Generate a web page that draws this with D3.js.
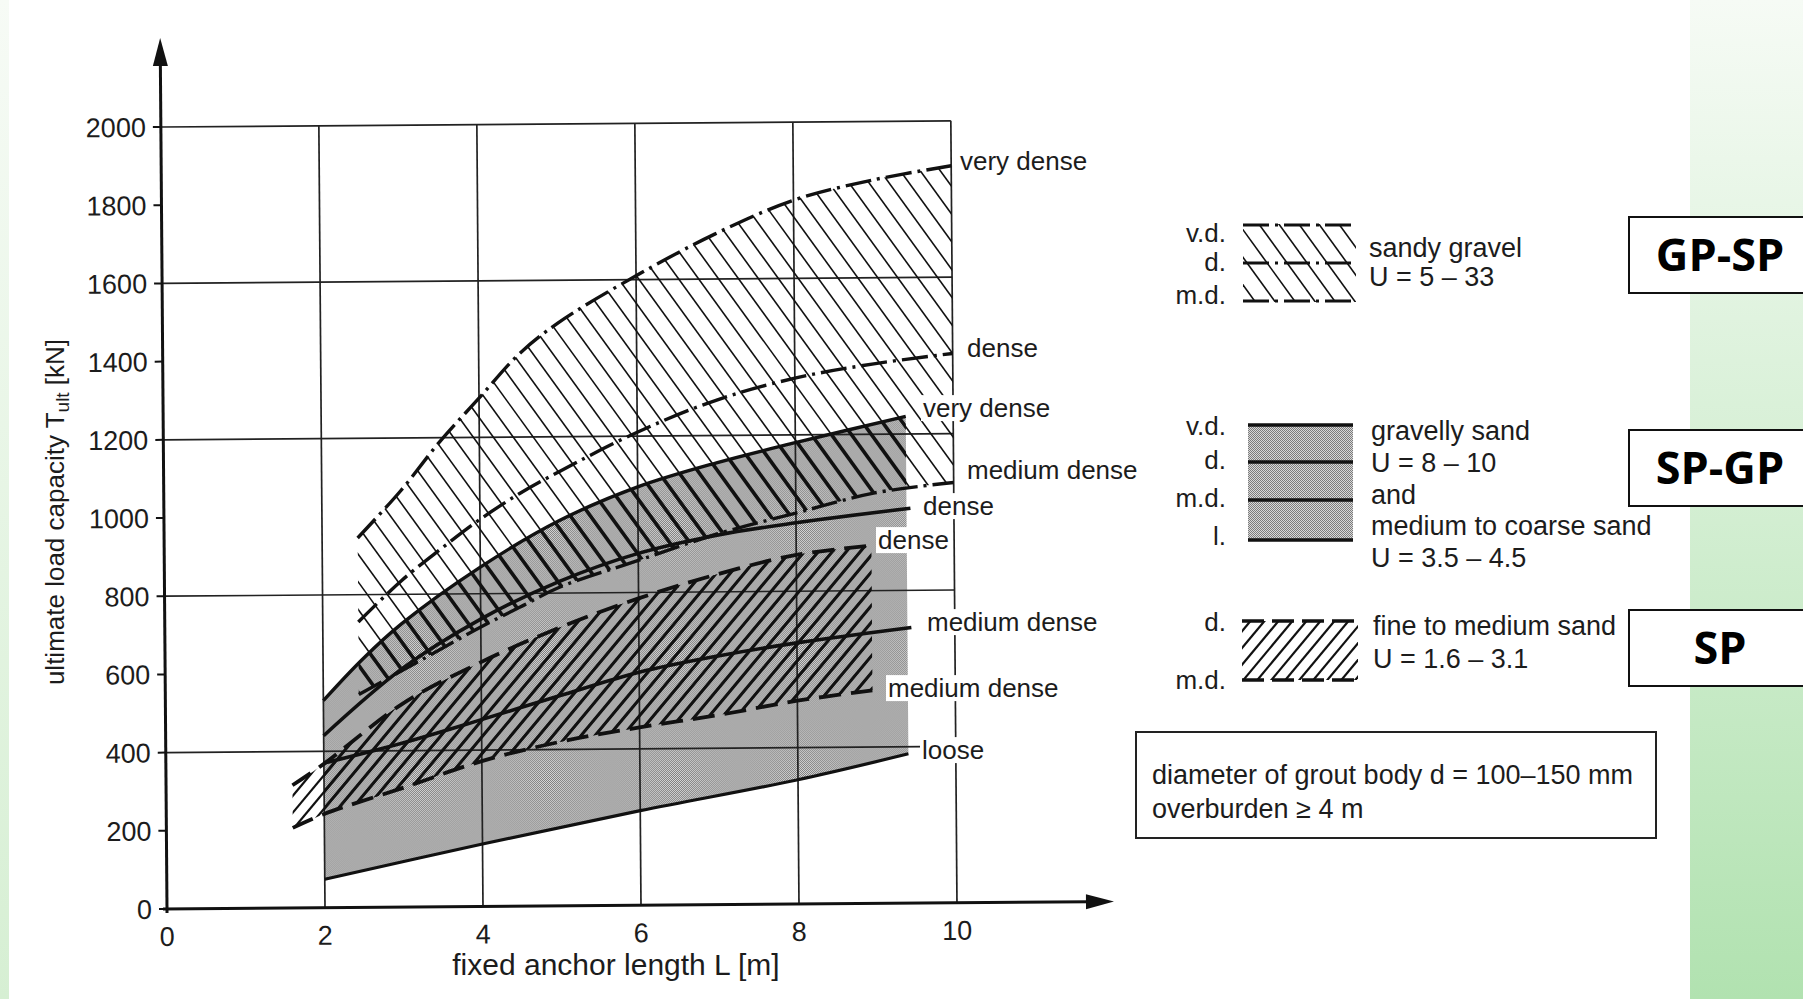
<!DOCTYPE html>
<html lang="en">
<head>
<meta charset="UTF-8">
<title>Ultimate load capacity of anchors</title>
<script src="https://d3js.org/d3.v7.min.js"></script>
<style>
  body { margin: 0; background: #fff; }
  text { font-family: "Liberation Sans", Arial, sans-serif; fill: #1c1c1c; }
</style>
</head>
<body>
<script>
// values: [fixed anchor length L (m), ultimate load T_ult (kN)]
var sandyGravelVD = [[2.45, 945], [3, 1065], [3.5, 1190], [4, 1300], [4.5, 1410], [5, 1490], [6, 1610], [7, 1715], [8, 1800], [9, 1850], [10, 1885]];
var sandyGravelD  = [[2.45, 730], [3, 835], [3.5, 915], [4, 990], [4.5, 1055], [5, 1110], [6, 1210], [7, 1290], [8, 1345], [9, 1380], [10, 1405]];
var sandyGravelMD = [[2.45, 545], [3, 605], [3.5, 660], [4, 715], [4.5, 765], [5, 815], [6, 882], [7, 948], [8, 1000], [9, 1050], [10, 1075]];

var gravellySandVD = [[2, 530], [2.5, 635], [3, 725], [4, 868], [5, 985], [6, 1070], [7, 1130], [8, 1180], [9.4, 1245]];
var gravellySandD  = [[2, 440], [3, 610], [4, 735], [5, 830], [6, 900], [7, 945], [8, 975], [9.45, 1010]];
var gravellySandMD = [[2, 370], [3, 420], [4, 478], [5, 538], [6, 596], [7, 636], [8, 668], [9.45, 705]];
var gravellySandL  = [[2, 73], [4, 160], [6, 242], [8, 318], [9.4, 382]];

var fineSandD  = [[1.6, 314], [2, 368], [3, 520], [4, 625], [5, 712], [6, 785], [7, 845], [8, 893], [8.95, 915]];
var fineSandMD = [[1.6, 205], [2, 240], [3, 305], [4, 372], [5, 420], [6, 455], [7, 485], [8, 520], [8.95, 545]];

var xTicks = [0, 2, 4, 6, 8, 10];
var yTicks = [0, 200, 400, 600, 800, 1000, 1200, 1400, 1600, 1800, 2000];
var xGrid = [2, 4, 6, 8, 10];
var yGrid = [400, 800, 1200, 1600, 2000];

var curveLabels = ["very dense", "dense", "very dense", "medium dense", "dense", "dense", "medium dense", "medium dense", "loose"];
var legendSG = ["sandy gravel", "U = 5 \u2013 33"];
var legendGS = ["gravelly sand", "U = 8 \u2013 10", "and", "medium to coarse sand", "U = 3.5 \u2013 4.5"];
var legendFS = ["fine to medium sand", "U = 1.6 \u2013 3.1"];
var noteLines = ["diameter of grout body d = 100\u2013150 mm", "overburden \u2265 4 m"];
var classes = ["GP-SP", "SP-GP", "SP"];

var W = 1803, H = 999;
var svg = d3.select("body").append("svg").attr("width", W).attr("height", H);
var defs = svg.append("defs");

var pat = defs.append("pattern").attr("id", "stipple").attr("width", 2).attr("height", 2)
    .attr("patternUnits", "userSpaceOnUse");
pat.append("rect").attr("width", 2).attr("height", 2).attr("fill", "#d8d8d8");
pat.append("rect").attr("width", 1).attr("height", 1).attr("fill", "#7c7c7c");
pat.append("rect").attr("x", 1).attr("y", 1).attr("width", 1).attr("height", 1).attr("fill", "#7c7c7c");

var grad = defs.append("linearGradient").attr("id", "green").attr("x1", 0).attr("y1", 0).attr("x2", 0).attr("y2", 1);
grad.append("stop").attr("offset", "0%").attr("stop-color", "#f6fbf5");
grad.append("stop").attr("offset", "100%").attr("stop-color", "#b1e2b0");
var gradL = defs.append("linearGradient").attr("id", "greenL").attr("x1", 0).attr("y1", 0).attr("x2", 0).attr("y2", 1);
gradL.append("stop").attr("offset", "0%").attr("stop-color", "#f7fbf6");
gradL.append("stop").attr("offset", "100%").attr("stop-color", "#d6efd3");

svg.append("rect").attr("width", W).attr("height", H).attr("fill", "#fff");
svg.append("rect").attr("x", 0).attr("y", 0).attr("width", 9).attr("height", H).attr("fill", "url(#greenL)");
svg.append("rect").attr("x", 1690).attr("y", 0).attr("width", W - 1690).attr("height", H).attr("fill", "url(#green)");

var x = d3.scaleLinear().domain([0, 10]).range([167, 957]);
var y = d3.scaleLinear().domain([0, 2000]).range([909, 127]);

// the scanned figure is slightly tilted
var tilt = "rotate(-0.45,167,909)";
var plot = svg.append("g").attr("transform", tilt);

var line = d3.line().x(function (d) { return x(d[0]); }).y(function (d) { return y(d[1]); })
    .curve(d3.curveCatmullRom.alpha(0.5));

function band(top, bottom) {
    return line(top) + "L" + line(bottom.slice().reverse()).slice(1) + "Z";
}

defs.append("clipPath").attr("id", "clipSG").append("path").attr("d", band(sandyGravelVD, sandyGravelMD)).attr("transform", tilt);
defs.append("clipPath").attr("id", "clipGS").append("path").attr("d", band(gravellySandVD, gravellySandL)).attr("transform", tilt);
defs.append("clipPath").attr("id", "clipFS").append("path").attr("d", band(fineSandD, fineSandMD)).attr("transform", tilt);

function hatch(g, step, slope, width) {
    // slope > 0 : "\"   slope < 0 : "/"
    var span = 900;
    d3.range(-900, 2400, step).forEach(function (c) {
        g.append("line")
            .attr("x1", c).attr("y1", 60)
            .attr("x2", c + span / slope).attr("y2", 60 + span)
            .attr("stroke", "#111").attr("stroke-width", width);
    });
}

// gravelly sand, stippled
plot.append("path").attr("d", band(gravellySandVD, gravellySandL)).attr("fill", "url(#stipple)");

// grid
plot.append("g").selectAll("line").data(yGrid).join("line")
    .attr("x1", x(0)).attr("x2", x(10)).attr("y1", function (d) { return y(d); }).attr("y2", function (d) { return y(d); })
    .attr("stroke", "#222").attr("stroke-width", 1.7);
plot.append("g").selectAll("line").data(xGrid).join("line")
    .attr("x1", function (d) { return x(d); }).attr("x2", function (d) { return x(d); })
    .attr("y1", y(0)).attr("y2", y(2000))
    .attr("stroke", "#222").attr("stroke-width", 1.7);

// hatching, clipped by the soil regions
var hSG = svg.append("g").attr("clip-path", "url(#clipSG)");
hatch(hSG, 20, 1.38, 1.6);
var hSG2 = hSG.append("g").attr("clip-path", "url(#clipGS)");
hatch(hSG2, 20, 1.38, 3.6);
var hFS = svg.append("g").attr("clip-path", "url(#clipFS)");
hatch(hFS, 14, -1.2, 2.2);
var hFS2 = hFS.append("g").attr("clip-path", "url(#clipGS)");
hatch(hFS2, 14, -1.2, 3.0);

// curves
function curve(data, dash, width) {
    plot.append("path").attr("d", line(data)).attr("fill", "none")
        .attr("stroke", "#111").attr("stroke-width", width)
        .attr("stroke-dasharray", dash);
}
curve(sandyGravelVD, "26,6,3,6", 3.4);
curve(sandyGravelD, "26,6,3,6", 3.4);
curve(sandyGravelMD, "26,6,3,6", 3.4);
curve(gravellySandVD, null, 3.4);
curve(gravellySandD, null, 3.6);
curve(gravellySandMD, null, 3.6);
curve(gravellySandL, null, 3.2);
curve(fineSandD, "22,10", 3.8);
curve(fineSandMD, "22,10", 3.8);

// axes
var ax = plot.append("g");
ax.append("line").attr("x1", x(0)).attr("x2", x(0)).attr("y1", y(0) + 4).attr("y2", 60)
    .attr("stroke", "#111").attr("stroke-width", 3);
ax.append("path").attr("d", "M" + x(0) + ",38L" + (x(0) - 7.5) + ",66L" + (x(0) + 7.5) + ",66Z").attr("fill", "#111");
ax.append("line").attr("x1", x(0) - 4).attr("x2", 1090).attr("y1", y(0)).attr("y2", y(0))
    .attr("stroke", "#111").attr("stroke-width", 3);
ax.append("path").attr("d", "M1114," + y(0) + "L1086," + (y(0) - 7.5) + "L1086," + (y(0) + 7.5) + "Z").attr("fill", "#111");

ax.selectAll(".yt").data(yTicks).join("line")
    .attr("x1", x(0) - 8).attr("x2", x(0)).attr("y1", function (d) { return y(d); }).attr("y2", function (d) { return y(d); })
    .attr("stroke", "#111").attr("stroke-width", 2);
ax.selectAll(".ytl").data(yTicks).join("text")
    .attr("x", x(0) - 15).attr("y", function (d) { return y(d); }).attr("dy", "0.36em")
    .attr("text-anchor", "end").attr("font-size", 27).text(function (d) { return d; });
ax.selectAll(".xtl").data(xTicks).join("text")
    .attr("x", function (d) { return x(d); }).attr("y", y(0) + 37)
    .attr("text-anchor", "middle").attr("font-size", 27).text(function (d) { return d; });

svg.append("text").attr("x", 616).attr("y", 975).attr("text-anchor", "middle")
    .attr("font-size", 30).text("fixed anchor length L [m]");
var yt = svg.append("text").attr("transform", "translate(64,512) rotate(-90)").attr("text-anchor", "middle")
    .attr("font-size", 26);
yt.append("tspan").text("ultimate load capacity T");
yt.append("tspan").attr("font-size", 19).attr("dy", 5).text("ult");
yt.append("tspan").attr("dy", -5).text(" [kN]");

// curve end labels (screen positions in the scanned figure)
var labelPos = [[960, 161], [967, 348], [923, 408], [967, 470], [923, 506], [878, 540], [927, 622], [888, 688], [922, 750]];
var lab = svg.append("g");
curveLabels.forEach(function (t, i) {
    var g = lab.append("g");
    var tx = g.append("text").attr("x", labelPos[i][0]).attr("y", labelPos[i][1]).attr("dy", "0.35em")
        .attr("font-size", 26).text(t);
    var b = tx.node().getBBox();
    g.insert("rect", "text").attr("x", b.x - 2).attr("y", b.y + 2).attr("width", b.width + 4).attr("height", b.height - 4)
        .attr("fill", "#fff");
});

// legend
var leg = svg.append("g");
function legendText(lines, x0, ys) {
    lines.forEach(function (t, i) {
        leg.append("text").attr("x", x0).attr("y", ys[i]).attr("dy", "0.35em").attr("font-size", 27).text(t);
    });
}
function keyLabels(lines, ys) {
    lines.forEach(function (t, i) {
        leg.append("text").attr("x", 1226).attr("y", ys[i]).attr("dy", "0.35em").attr("text-anchor", "end")
            .attr("font-size", 26).text(t);
    });
}

// sandy gravel key
defs.append("clipPath").attr("id", "clipK1").append("rect").attr("x", 1243).attr("y", 224).attr("width", 113).attr("height", 78);
var k1 = leg.append("g").attr("clip-path", "url(#clipK1)");
hatch(k1, 20, 1.38, 1.6);
[225, 263, 301].forEach(function (yy) {
    leg.append("line").attr("x1", 1243).attr("x2", 1356).attr("y1", yy).attr("y2", yy)
        .attr("stroke", "#111").attr("stroke-width", 3).attr("stroke-dasharray", "26,6,3,6");
});
keyLabels(["v.d.", "d.", "m.d."], [233, 262, 295]);
legendText(legendSG, 1369, [248, 277]);

// gravelly sand key
leg.append("rect").attr("x", 1248).attr("y", 425).attr("width", 105).attr("height", 115).attr("fill", "url(#stipple)");
[425, 462, 500, 540].forEach(function (yy) {
    leg.append("line").attr("x1", 1248).attr("x2", 1353).attr("y1", yy).attr("y2", yy)
        .attr("stroke", "#111").attr("stroke-width", 3.4);
});
keyLabels(["v.d.", "d.", "m.d.", "l."], [426, 460, 498, 536]);
legendText(legendGS, 1371, [431, 463, 495, 526, 558]);

// fine sand key
defs.append("clipPath").attr("id", "clipK3").append("rect").attr("x", 1242).attr("y", 621).attr("width", 116).attr("height", 59);
var k3 = leg.append("g").attr("clip-path", "url(#clipK3)");
hatch(k3, 14, -1.2, 2.2);
[621, 680].forEach(function (yy) {
    leg.append("line").attr("x1", 1242).attr("x2", 1358).attr("y1", yy).attr("y2", yy)
        .attr("stroke", "#111").attr("stroke-width", 3.6).attr("stroke-dasharray", "22,8");
});
keyLabels(["d.", "m.d."], [622, 680]);
legendText(legendFS, 1373, [626, 659]);

// note box
leg.append("rect").attr("x", 1136).attr("y", 732).attr("width", 520).attr("height", 106)
    .attr("fill", "#fff").attr("stroke", "#222").attr("stroke-width", 2);
legendText(noteLines, 1152, [775, 809]);

// soil class boxes
var boxY = [217, 430, 610];
classes.forEach(function (c, i) {
    svg.append("rect").attr("x", 1629).attr("y", boxY[i]).attr("width", 190).attr("height", 76)
        .attr("fill", "#fff").attr("stroke", "#111").attr("stroke-width", 2);
    svg.append("text").attr("x", 1720).attr("y", boxY[i] + 38).attr("dy", "0.36em").attr("text-anchor", "middle")
        .style("font-family", "'Open Sans', sans-serif").attr("font-weight", 700).attr("font-size", 45)
        .style("fill", "#000").text(c);
});
</script>
</body>
</html>
